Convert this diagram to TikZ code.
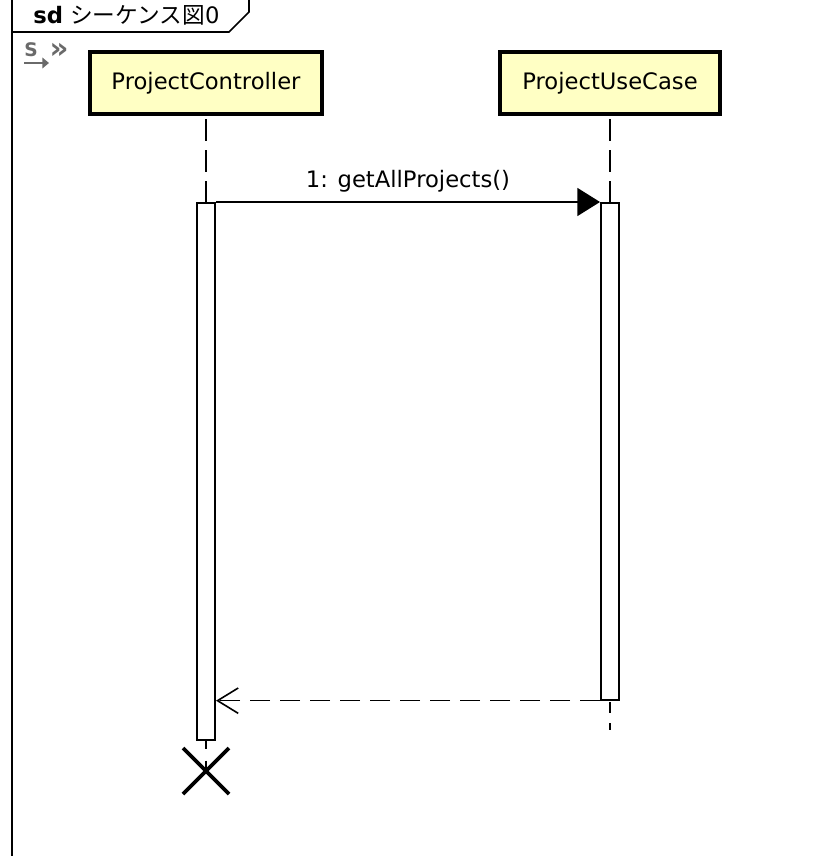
\documentclass[tikz,border=0pt]{standalone}
\usepackage{fontspec}
\setmainfont{DejaVu Sans}
\newfontfamily\jpfont{Noto Sans CJK JP}
\usetikzlibrary{arrows.meta}
\definecolor{headfill}{HTML}{FFFFC4}
\definecolor{icongray}{HTML}{6A6A6A}
\begin{document}
\begin{tikzpicture}[x=0.75pt,y=-0.75pt,
  framestroke/.style={line width=1.2pt},
  lifehead/.style={draw, line width=3pt, fill=headfill, minimum height=46.5pt,
    inner sep=0pt, font=\fontsize{17}{19}\selectfont},
  actbar/.style={draw, line width=1.5pt, fill=white, minimum width=13.5pt,
    inner sep=0pt, anchor=north},
  lifeline/.style={line width=1.4pt, dash pattern=on 16.5pt off 6.75pt, dash phase=-2.5pt},
  callmsg/.style={line width=1.2pt, -{Triangle[length=17pt,width=21pt]}},
  replymsg/.style={line width=1.2pt, dash pattern=on 15pt off 7.5pt,
    -{Straight Barb[length=15.5pt,width=19pt,line width=1.2pt]}},
  msglabel/.style={font=\fontsize{17}{19}\selectfont, inner sep=0pt},
  destroy/.style={line width=2.7pt}]
\useasboundingbox (0,0) rectangle (838,856);

% diagram frame and its name tab
\draw[framestroke] (12,0) -- (12,856);
\draw[framestroke] (12,32) -- (229,32) -- (249,12) -- (249,0);
\node[anchor=base west, inner sep=0pt, font=\fontsize{17}{19}\selectfont] (title) at (33,24)
  {\textbf{sd} {\jpfont シーケンス図}0};

% sequence-diagram icon
\node[anchor=base, inner sep=0pt, text=icongray, font=\bfseries\fontsize{14}{16}\selectfont] (iconS) at (31,57) {S};
\coordinate (arA) at (24,63);
\coordinate (arB) at (49,63);
\draw[icongray, line width=2.2pt, -{Triangle[length=5pt,width=8pt]}] (arA) -- (arB);
\node[anchor=center, inner sep=0pt, text=icongray, font=\bfseries\fontsize{22}{24}\selectfont] (iconR) at (59,51) {»};

% lifeline heads
\node[lifehead, minimum width=174pt] (pc) at (206,83) {ProjectController};
\node[lifehead, minimum width=165pt] (uc) at (610,83) {ProjectUseCase};

% activation bars
\node[actbar, minimum height=402.5pt] (pcact) at (206,202) {};
\node[actbar, minimum height=372.5pt] (ucact) at (610,202) {};

% lifelines
\draw[lifeline] (pc.south) -- (pcact.north);
\draw[lifeline] (uc.south) -- (ucact.north);
\coordinate (ucend) at (610,730);
\draw[line width=1.4pt, dash pattern=on 8pt off 8pt, dash phase=-1pt] (ucact.south) -- (ucend);

% destruction of the controller
\coordinate (xc) at (206,771);
\draw[line width=1.4pt, dash pattern=on 6pt off 9pt] (pcact.south) -- (xc);
\draw[destroy] (183,748) coordinate (xa) -- (229,794) coordinate (xb);
\draw[destroy] (229,748) coordinate (xd) -- (183,794) coordinate (xe);

% messages
\draw[callmsg] (pcact.north east) -- node[msglabel, above=7pt] (m1) {1: getAllProjects()} (ucact.north west);
\draw[replymsg] (ucact.south west) -- (pcact.east |- ucact.south);
\end{tikzpicture}
\end{document}
